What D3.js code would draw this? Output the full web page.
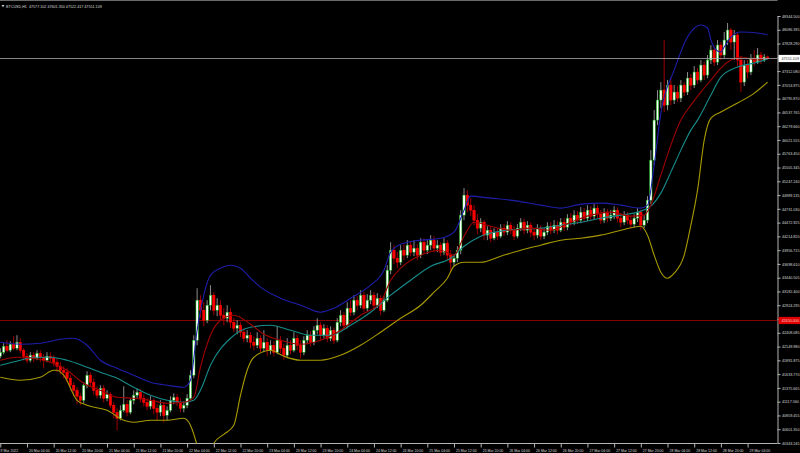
<!DOCTYPE html>
<html><head><meta charset="utf-8">
<script src="https://cdn.jsdelivr.net/npm/d3@7"></script>
<style>html,body{margin:0;padding:0;background:#000;overflow:hidden}</style>
</head><body><svg id="c" width="800" height="453"></svg>
<script>
const symbolTitle = "BTCUSD,H1";
const opens = [41969,42044,42156,42081,42194,42119,42231,42081,41969,41894,41988,41931,42025,41950,41894,41969,41931,41856,41781,41706,41669,41556,41425,41331,41219,41144,41425,41613,41481,41331,41238,41369,41181,41256,41050,40919,40806,40956,41069,40919,41144,41238,41294,41181,41106,41031,41144,40994,40919,41050,40863,40956,41144,41200,41106,40994,41050,41181,41613,42269,43019,42831,42644,42925,43113,42831,42925,42738,42681,42794,42606,42494,42550,42419,42306,42363,42231,42175,42306,42119,42231,42081,42175,42044,42269,42119,41988,42175,42081,42306,42175,42044,42269,42363,42231,42456,42550,42363,42494,42306,42456,42269,42606,42738,42550,42869,42794,43019,42925,43113,42869,43019,43113,42925,43056,42831,43019,43581,43956,43806,43731,43956,43863,44050,43919,43994,43863,44106,43956,44050,44144,43994,44050,43919,44088,43863,43731,43806,43956,44613,44988,44800,44706,44519,44369,44481,44238,44331,44181,44294,44219,44369,44294,44425,44331,44219,44369,44481,44331,44425,44294,44238,44369,44219,44294,44406,44331,44425,44331,44481,44388,44556,44481,44613,44519,44669,44556,44706,44594,44744,44631,44519,44669,44556,44613,44706,44556,44481,44613,44519,44444,44556,44669,44425,44519,44894,45644,46394,46769,46956,46675,47050,46769,46919,46806,47050,46919,47181,47050,47294,47144,47425,47238,47519,47706,47481,47800,47613,47894,48081,47856,47988,47519,47106,47425,47294,47556,47481,47613,47519,47577.102];
const highs = [42119,42213,42269,42250,42344,42363,42306,42119,42025,42044,42044,42081,42081,42006,42044,42044,41988,41931,41856,41781,41744,41613,41481,41388,41275,41481,41688,41669,41556,41406,41425,41425,41331,41294,41106,40994,41050,41406,41144,41181,41331,41369,41350,41256,41181,41219,41181,41069,41144,41106,41031,41219,41275,41256,41181,41125,41256,41706,42363,43244,43113,42981,43019,43300,43169,43056,43019,42869,42925,42869,42681,42644,42606,42494,42456,42419,42344,42419,42363,42456,42306,42269,42250,42531,42344,42194,42306,42269,42419,42381,42269,42344,42456,42438,42531,42681,42606,42569,42550,42531,42513,42681,42831,42794,42981,43019,43113,43094,43206,43169,43131,43206,43169,43150,43113,43094,43675,44106,44050,43919,44050,44069,44144,44106,44144,44069,44181,44181,44144,44238,44219,44144,44106,44181,44144,43956,43881,44031,44706,45119,45081,44931,44800,44631,44556,44519,44406,44406,44369,44369,44444,44444,44500,44481,44406,44444,44556,44538,44500,44481,44369,44444,44425,44369,44481,44481,44519,44500,44556,44556,44631,44650,44706,44688,44763,44744,44800,44781,44819,44800,44706,44744,44725,44706,44781,44763,44650,44688,44669,44594,44631,44744,44706,44613,44969,45831,46581,46956,47106,47894,47144,47181,47050,47031,47144,47106,47294,47256,47406,47369,47519,47481,47613,47800,47781,47894,47856,48044,48213,48119,48081,48044,47594,47519,47519,47631,47706,47744,47669,47631,47601.35];
const lows = [41931,42006,42044,42044,42081,42081,42025,41894,41838,41856,41856,41894,41856,41744,41856,41856,41781,41669,41631,41556,41481,41331,41219,41069,41050,41088,41369,41406,41256,41181,41181,41106,41125,40994,40806,40581,40769,40919,40844,40881,41069,41181,41106,41031,40956,40975,40881,40769,40844,40731,40769,40919,41069,41031,40919,40919,40994,41144,41556,42175,42681,42531,42588,42831,42738,42719,42644,42550,42606,42494,42419,42381,42325,42231,42231,42119,42081,42119,42044,42044,41969,42006,41969,42006,42025,41894,41931,42006,42044,42081,41931,41988,42194,42156,42175,42381,42269,42306,42231,42250,42194,42231,42531,42494,42494,42719,42738,42831,42869,42794,42813,42944,42831,42869,42738,42794,42981,43506,43694,43619,43675,43769,43806,43844,43844,43769,43806,43881,43881,43956,43919,43919,43844,43863,43769,43544,43656,43731,43881,44519,44669,44594,44425,44256,44294,44144,44144,44106,44144,44144,44181,44219,44238,44256,44144,44181,44313,44256,44275,44200,44144,44181,44144,44163,44238,44256,44275,44256,44294,44313,44331,44406,44425,44444,44463,44481,44500,44519,44538,44556,44444,44463,44481,44500,44538,44481,44388,44425,44444,44369,44388,44481,44331,44369,44463,44819,45550,46300,46619,46544,46581,46675,46694,46731,46731,46844,46863,46956,46994,47069,47106,47144,47181,47444,47406,47425,47519,47556,47800,47706,47519,47406,46919,47031,47181,47238,47406,47444,47444,47481,47522.417];
const closes = [42044,42156,42081,42194,42119,42231,42081,41969,41894,41988,41931,42025,41950,41894,41969,41931,41856,41781,41706,41669,41556,41425,41331,41219,41144,41425,41613,41481,41331,41238,41369,41181,41256,41050,40919,40806,40956,41069,40919,41144,41238,41294,41181,41106,41031,41144,40994,40919,41050,40863,40956,41144,41200,41106,40994,41050,41181,41613,42269,43019,42831,42644,42925,43113,42831,42925,42738,42681,42794,42606,42494,42550,42419,42306,42363,42231,42175,42306,42119,42231,42081,42175,42044,42269,42119,41988,42175,42081,42306,42175,42044,42269,42363,42231,42456,42550,42363,42494,42306,42456,42269,42606,42738,42550,42869,42794,43019,42925,43113,42869,43019,43113,42925,43056,42831,43019,43581,43956,43806,43731,43956,43863,44050,43919,43994,43863,44106,43956,44050,44144,43994,44050,43919,44088,43863,43731,43806,43956,44613,44988,44800,44706,44519,44369,44481,44238,44331,44181,44294,44219,44369,44294,44425,44331,44219,44369,44481,44331,44425,44294,44238,44369,44219,44294,44406,44331,44425,44331,44481,44388,44556,44481,44613,44519,44669,44556,44706,44594,44744,44631,44519,44669,44556,44613,44706,44556,44481,44613,44519,44444,44556,44669,44425,44519,44894,45644,46394,46769,46956,46675,47050,46769,46919,46806,47050,46919,47181,47050,47294,47144,47425,47238,47519,47706,47481,47800,47613,47894,48081,47856,47988,47519,47106,47425,47294,47556,47481,47613,47519,47577.102,47551.109];

// indicator lines sampled as [barIndex, price]
const upperBand = [[0,42231],[6,42194],[12,42213],[18,42288],[22,42306],[26,42175],[30,41894],[35,41744],[40,41613],[45,41481],[50,41425],[55,41388],[57,41519],[59,42456],[61,43113],[63,43488],[66,43619],[69,43675],[72,43619],[75,43431],[78,43263],[84,43056],[90,42925],[96,42794],[100,42869],[105,43056],[111,43300],[115,43581],[117,43919],[120,44069],[126,44144],[132,44181],[136,44294],[139,44706],[141,44969],[147,44931],[153,44894],[162,44800],[168,44744],[174,44819],[180,44838],[186,44800],[192,44744],[194,44800],[196,45550],[198,46525],[202,47331],[206,47950],[210,48175],[212,48119],[213,47894],[215,47688],[216,47669],[217,47763],[219,47950],[222,48044],[227,48025],[230,47988]];
const middleBand = [[0,41800],[6,41894],[10,41950],[15,41950],[20,41894],[26,41763],[30,41669],[35,41556],[40,41388],[45,41238],[50,41144],[55,41106],[58,41144],[60,41331],[63,41800],[69,42306],[75,42513],[81,42550],[87,42456],[93,42363],[99,42363],[105,42550],[111,42794],[117,43113],[123,43394],[129,43656],[135,43806],[139,44031],[144,44219],[150,44313],[156,44350],[162,44369],[168,44425],[174,44481],[180,44556],[186,44613],[192,44688],[195,44781],[198,45025],[201,45419],[204,45831],[207,46206],[209,46394],[213,46863],[216,47200],[221,47388],[226,47463],[230,47538]];
const lowerBand = [[0,41575],[6,41519],[12,41575],[16,41706],[17,41706],[19,41613],[23,41144],[26,41050],[32,40956],[37,40769],[40,40731],[45,40769],[50,40769],[55,40806],[57,40675],[59,40300],[61,39831],[64,40338],[67,40506],[70,40675],[72,41238],[74,41706],[76,41950],[81,42081],[85,41969],[90,41894],[96,41894],[102,41988],[108,42175],[114,42419],[120,42681],[126,42925],[130,43169],[134,43431],[136,43656],[139,43731],[144,43731],[150,43844],[156,43956],[162,44050],[168,44144],[174,44181],[180,44238],[186,44331],[192,44406],[194,44238],[196,43863],[198,43544],[200,43431],[202,43525],[205,43863],[207,44425],[209,45081],[211,46019],[213,46431],[216,46544],[221,46713],[226,46900],[230,47106]];
const fastMA = [[0,41894],[5,41950],[10,41931],[15,41856],[20,41706],[25,41463],[30,41331],[35,41200],[40,41181],[45,41144],[50,41088],[55,41106],[58,41200],[60,41763],[63,42363],[66,42644],[70,42738],[75,42569],[79,42381],[84,42269],[90,42194],[96,42269],[102,42456],[108,42738],[114,42981],[117,43394],[120,43619],[126,43863],[132,43956],[136,43863],[139,44219],[142,44481],[147,44406],[153,44331],[159,44369],[165,44331],[171,44481],[177,44613],[183,44669],[189,44594],[193,44613],[195,44800],[198,45363],[201,45925],[204,46394],[207,46675],[210,46919],[213,47144],[216,47369],[219,47519],[222,47575],[227,47519],[230,47575]];

const timeLabels = ["19 Mar 2022","20 Mar 04:00","20 Mar 12:00","20 Mar 20:00","21 Mar 04:00","21 Mar 12:00","21 Mar 20:00","22 Mar 04:00","22 Mar 12:00","22 Mar 20:00","23 Mar 04:00","23 Mar 12:00","23 Mar 20:00","24 Mar 04:00","24 Mar 12:00","24 Mar 20:00","25 Mar 04:00","25 Mar 12:00","25 Mar 20:00","26 Mar 04:00","26 Mar 12:00","26 Mar 20:00","27 Mar 04:00","27 Mar 12:00","27 Mar 20:00","28 Mar 04:00","28 Mar 12:00","28 Mar 20:00","29 Mar 04:00"];
const timeLabelBars = [0,8,16,24,32,40,48,56,64,72,80,88,96,104,112,120,128,136,144,152,160,168,176,184,192,200,208,216,224];
const priceTicks = [48344.500,48086.395,47828.290,47570.185,47312.080,47053.975,46795.870,46537.765,46279.660,46021.555,45763.450,45505.345,45247.240,44989.135,44731.030,44472.925,44214.820,43956.715,43698.610,43440.505,43182.400,42924.295,42666.190,42408.085,42149.980,41891.875,41633.770,41375.665,41117.560,40859.455,40601.350,40343.245];
const alertLevel = 42650.000;

const svg = d3.select("#c");
const PR = 777.5, PB = 443.5;
svg.append("rect").attr("width",800).attr("height",453).attr("fill","#000");

const x = d3.scaleLinear().domain([0,230]).range([0.3, 767.6]);
const y = d3.scaleLinear().domain([40343.245, 48344.5]).range([443, 16]);

svg.append("defs").append("clipPath").attr("id","plot")
  .append("rect").attr("x",0).attr("y",0).attr("width",PR).attr("height",PB);

const fmt = d3.format(".3f");
const fontFam = "'Liberation Sans', Arial, sans-serif";

// price axis
const ya = svg.append("g").attr("transform",`translate(${PR},0)`)
  .call(d3.axisRight(y).tickValues(priceTicks).tickFormat(fmt).tickSize(3).tickSizeOuter(0).tickPadding(1.5));
ya.select(".domain").attr("stroke","#b4b4b4");
ya.selectAll(".tick line").attr("stroke","#b4b4b4");
ya.selectAll(".tick text").attr("fill","#d8d8d8").style("font-size","3.7px").style("font-family",fontFam);

// time axis
const xa = svg.append("g").attr("transform",`translate(0,${PB})`)
  .call(d3.axisBottom(x).tickValues(timeLabelBars).tickFormat((d,i)=>timeLabels[i]).tickSize(4).tickSizeOuter(0).tickPadding(2));
xa.select(".domain").attr("stroke","#b4b4b4").attr("d",`M0,0H${PR}`);
xa.selectAll(".tick line").attr("stroke","#b4b4b4");
xa.selectAll(".tick text").attr("fill","#d8d8d8").style("font-size","3.5px").style("font-family",fontFam)
  .attr("text-anchor","start").attr("dx",(d,i)=> i===0 ? -2.2 : 1.5);

// top border
svg.append("line").attr("x1",0).attr("x2",PR).attr("y1",0.5).attr("y2",0.5).attr("stroke","#6a6a6a");

const plot = svg.append("g").attr("clip-path","url(#plot)");

// alert level line
plot.append("line").attr("x1",0).attr("x2",PR).attr("y1",Math.round(y(alertLevel))+0.5).attr("y2",Math.round(y(alertLevel))+0.5)
  .attr("stroke","#880000").attr("stroke-width",1);

// candles
const bars = d3.range(closes.length);
const bw = 2.4;
plot.append("g").selectAll("line").data(bars).join("line")
  .attr("x1",i=>x(i)).attr("x2",i=>x(i))
  .attr("y1",i=>y(highs[i])).attr("y2",i=>y(lows[i]))
  .attr("stroke",i=>closes[i]>=opens[i]?"#b0b0b0":"#c80000").attr("stroke-width",0.8);
plot.append("g").selectAll("rect").data(bars).join("rect")
  .attr("x",i=>x(i)-bw/2).attr("width",bw)
  .attr("y",i=>y(Math.max(opens[i],closes[i])))
  .attr("height",i=>Math.max(0.7, Math.abs(y(opens[i])-y(closes[i]))))
  .attr("fill",i=>closes[i]>=opens[i]?"#ffffff":"#ff0000")
  .attr("stroke",i=>closes[i]>=opens[i]?"#00b400":"#ff0000").attr("stroke-width",0.5);

// indicator lines
const line = d3.line().x(d=>x(d[0])).y(d=>y(d[1])).curve(d3.curveMonotoneX);
const lines = [[upperBand,"#1e1eaa"],[lowerBand,"#a89a00"],[middleBand,"#168c8a"],[fastMA,"#a00000"]];
lines.forEach(([data,col])=>{
  plot.append("path").datum(data).attr("d",line).attr("fill","none").attr("stroke",col).attr("stroke-width",1.1);
});

// current price line
const last = closes.length-1;
const cy = Math.round(y(closes[last]))+0.5;
plot.append("line").attr("x1",0).attr("x2",PR).attr("y1",cy).attr("y2",cy).attr("stroke","#a8a8a8").attr("stroke-width",0.8);

// price boxes
function tag(val, yy, bg, fg){
  const g = svg.append("g");
  g.append("rect").attr("x",PR+1).attr("y",yy-3.6).attr("width",22).attr("height",7.2).attr("fill",bg);
  g.append("text").attr("x",PR+4).attr("y",yy+1.4).text(fmt(val)).attr("fill",fg)
    .style("font-size","3.7px").style("font-family",fontFam);
}
tag(closes[last], cy, "#ffffff", "#333333");
tag(alertLevel, Math.round(y(alertLevel))+0.5, "#e00000", "#ffd0d0");

// header
svg.append("path").attr("d","M1.5,5 L4.5,5 L3,7.2 Z").attr("fill","#cfcfcf");
svg.append("text").attr("x",6).attr("y",7.6)
  .text(`${symbolTitle}  ${fmt(opens[last])} ${fmt(highs[last])} ${fmt(lows[last])} ${fmt(closes[last])}`)
  .attr("fill","#d8d8d8").style("font-size","3.7px").style("font-family",fontFam).attr("xml:space","preserve");
</script></body></html>
